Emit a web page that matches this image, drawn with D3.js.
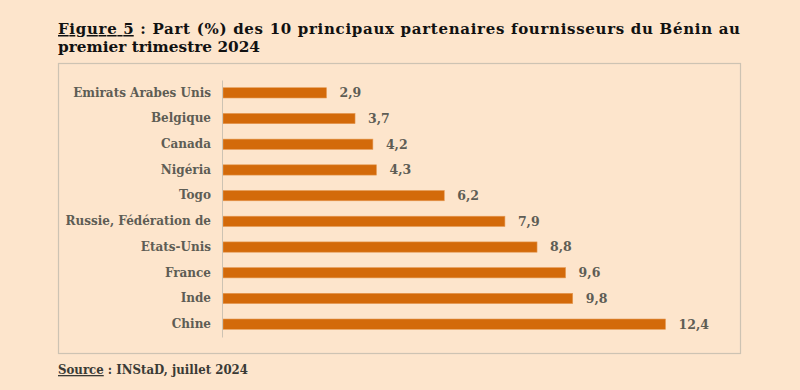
<!DOCTYPE html>
<html lang="fr">
<head>
<meta charset="UTF-8">
<title>Figure 5</title>
<script src="https://cdn.jsdelivr.net/npm/d3@7.9.0/dist/d3.min.js"></script>
<style>
  html, body { margin: 0; padding: 0; background: #fde5cc; }
  svg { display: block; }
</style>
</head>
<body>
<div id="chart"></div>
<script>
// data (top to bottom)
const partners = ["Emirats Arabes Unis", "Belgique", "Canada", "Nigéria", "Togo",
                  "Russie, Fédération de", "Etats-Unis", "France", "Inde", "Chine"];
const shares = [2.9, 3.7, 4.2, 4.3, 6.2, 7.9, 8.8, 9.6, 9.8, 12.4];

const width = 800, height = 390;
const barColor = "#d36a0a";
const labelColor = "#5e5d55";
const fmt = v => d3.format(".1f")(v).replace(".", ",");

const svg = d3.select("#chart").append("svg")
  .attr("width", width)
  .attr("height", height);

svg.append("rect")
  .attr("width", width).attr("height", height)
  .attr("fill", "#fde5cc");

// title, justified on the first line
const title = svg.append("g")
  .attr("font-family", "DejaVu Serif, serif")
  .attr("font-weight", "bold")
  .attr("font-size", 15)
  .attr("fill", "#111");

const t1 = title.append("text")
  .attr("x", 58).attr("y", 34)
  .attr("textLength", 682)
  .attr("lengthAdjust", "spacing");
t1.append("tspan").attr("text-decoration", "underline").text("Figure 5");
t1.append("tspan").text(" : Part (%) des 10 principaux partenaires fournisseurs du Bénin au");

title.append("text")
  .attr("x", 58).attr("y", 51.5)
  .attr("textLength", 202)
  .attr("lengthAdjust", "spacingAndGlyphs")
  .text("premier trimestre 2024");

// frame around the chart
svg.append("rect")
  .attr("x", 58.5).attr("y", 63.5)
  .attr("width", 682).attr("height", 290)
  .attr("fill", "none")
  .attr("stroke", "#cdc3b3")
  .attr("stroke-width", 1.2);

const x = d3.scaleLinear().domain([0, 12.4]).range([223, 665.5]);
const y = d3.scaleBand().domain(partners).range([80, 337]).paddingInner(0.6).paddingOuter(0.3);

const plot = svg.append("g");

plot.selectAll("rect.bar")
  .data(partners)
  .enter().append("rect")
  .attr("class", "bar")
  .attr("x", x(0))
  .attr("y", d => y(d))
  .attr("width", (d, i) => x(shares[i]) - x(0))
  .attr("height", y.bandwidth())
  .attr("fill", barColor)
  .attr("stroke", "#e59a55")
  .attr("stroke-width", 0.6);

// category axis (line only, no ticks)
const yAxis = plot.append("g")
  .attr("transform", `translate(${x(0) - 1},0)`)
  .call(d3.axisLeft(y).tickSize(0).tickPadding(11));
yAxis.select(".domain").attr("stroke", "#cdc3b3").attr("stroke-width", 1);
yAxis.selectAll("text")
  .attr("font-family", "DejaVu Serif, serif")
  .attr("font-weight", "bold")
  .attr("font-size", 12)
  .attr("fill", labelColor);

// value labels
plot.selectAll("text.val")
  .data(partners)
  .enter().append("text")
  .attr("class", "val")
  .attr("x", (d, i) => x(shares[i]) + 13)
  .attr("y", d => y(d) + y.bandwidth() / 2)
  .attr("dy", "0.35em")
  .attr("font-family", "DejaVu Serif, serif")
  .attr("font-weight", "bold")
  .attr("font-size", 12.5)
  .attr("fill", labelColor)
  .text((d, i) => fmt(shares[i]));

// source line
const src = svg.append("text")
  .attr("x", 58).attr("y", 374)
  .attr("font-family", "DejaVu Serif, serif")
  .attr("font-weight", "bold")
  .attr("font-size", 13)
  .attr("fill", "#3a3a35")
  .attr("textLength", 190)
  .attr("lengthAdjust", "spacingAndGlyphs");
src.append("tspan").attr("text-decoration", "underline").text("Source");
src.append("tspan").text(" : INStaD, juillet 2024");
</script>
</body>
</html>
